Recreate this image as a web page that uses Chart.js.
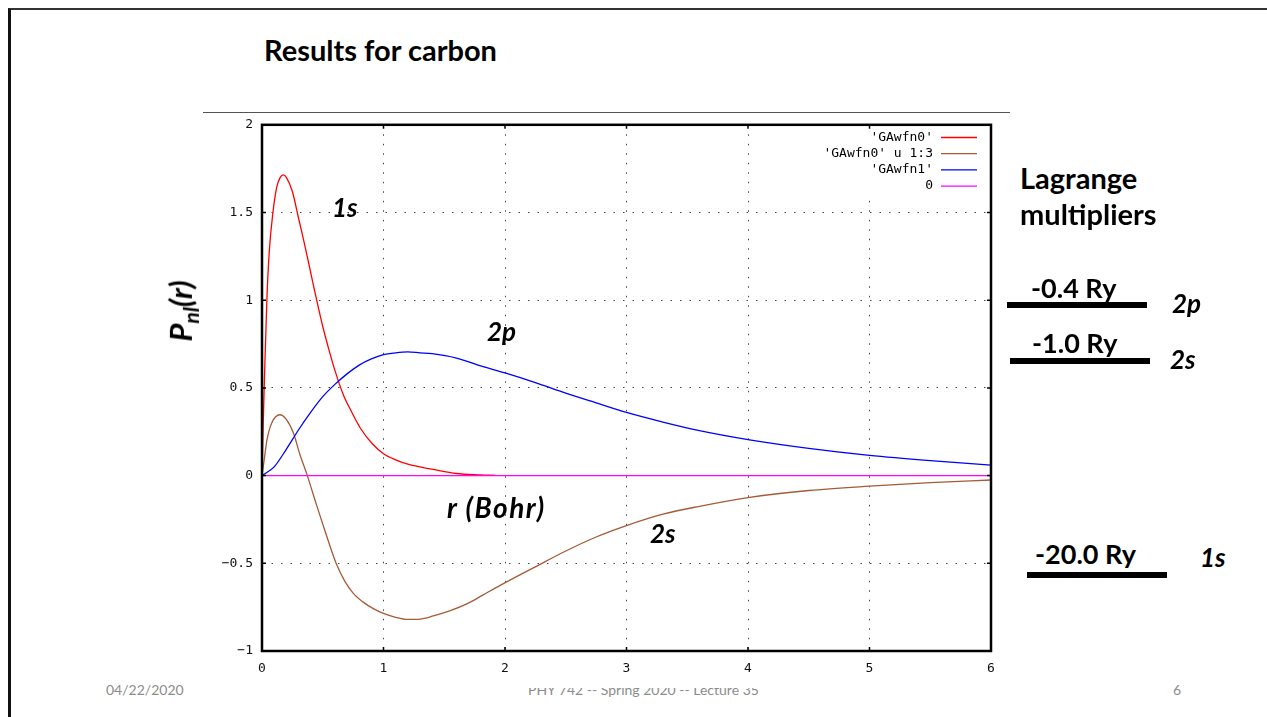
<!DOCTYPE html>
<html>
<head>
<meta charset="utf-8">
<script src="https://cdn.jsdelivr.net/npm/chart.js@4.4.0/dist/chart.umd.min.js"></script>
<style>
  html, body { margin: 0; padding: 0; background: #fff; }
  body { width: 1267px; height: 717px; position: relative; overflow: hidden; font-family: Lato, "Open Sans", sans-serif; }
  .abs { position: absolute; line-height: 1; white-space: nowrap; color: #000; }
  .b { font-weight: 700; }
  .bi { font-weight: 700; font-style: italic; }
  .bar { position: absolute; background: #000; }
  .foot { position: absolute; color: #8c8c8c; font-size: 14px; line-height: 1; }
</style>
</head>
<body>
<!-- slide frame -->
<div style="position:absolute;left:8px;top:8px;width:1300px;height:800px;border-left:3px solid #111;border-top:2px solid #333;"></div>

<!-- footer (partly hidden by the plot image, as in the slide) -->
<div class="foot" style="left:106px;top:683px;">04/22/2020</div>
<div class="foot" style="left:528px;top:683px;">PHY 742 -- Spring 2020 -- Lecture 35</div>
<div class="foot" style="left:1173px;top:683px;">6</div>

<div class="abs b" style="left:264px;top:35px;font-size:29px;">Results for carbon</div>

<!-- plot image -->
<div style="position:absolute;left:200px;top:108px;width:810px;height:580px;background:#fff;">
  <canvas id="plot" width="810" height="580"></canvas>
</div>
<div style="position:absolute;left:203px;top:112px;width:807px;height:1px;background:#555;"></div>

<!-- annotations -->
<div class="abs bi" style="left:183px;top:311px;font-size:31px;transform:translate(-50%,-50%) rotate(-90deg);">P<sub style="font-size:21px;">nl</sub>(r)</div>
<div class="abs bi" style="left:332px;top:194px;font-size:26px;">1s</div>
<div class="abs bi" style="left:487px;top:318px;font-size:26px;">2p</div>
<div class="abs bi" style="left:447px;top:493px;font-size:28px;letter-spacing:1.5px;">r (Bohr)</div>
<div class="abs bi" style="left:650px;top:520px;font-size:26px;">2s</div>

<!-- Lagrange multipliers -->
<div class="abs b" style="left:1020px;top:163px;font-size:29px;">Lagrange</div>
<div class="abs b" style="left:1020px;top:199px;font-size:29px;">multipliers</div>

<div class="abs b" style="left:1031px;top:274px;font-size:27px;">-0.4 Ry</div>
<div class="bar" style="left:1007px;top:302px;width:140px;height:6px;"></div>
<div class="abs bi" style="left:1172px;top:290px;font-size:26px;">2p</div>

<div class="abs b" style="left:1032px;top:329px;font-size:27px;">-1.0 Ry</div>
<div class="bar" style="left:1010px;top:358px;width:140px;height:6px;"></div>
<div class="abs bi" style="left:1170px;top:346px;font-size:26px;">2s</div>

<div class="abs b" style="left:1035px;top:540px;font-size:27px;">-20.0 Ry</div>
<div class="bar" style="left:1027px;top:572px;width:140px;height:6px;"></div>
<div class="abs bi" style="left:1200px;top:544px;font-size:26px;">1s</div>

<script>
// radial functions P_nl(r)
const r1s = [0, 0.01, 0.02, 0.04, 0.06, 0.09, 0.12, 0.15, 0.175, 0.2, 0.25, 0.3, 0.35, 0.4, 0.45, 0.5, 0.55, 0.6, 0.67, 0.74, 0.81, 0.91, 1.0, 1.1, 1.2, 1.3, 1.41, 1.6, 1.8, 1.92];
const p1s = [0, 0.3, 0.55, 1.0, 1.28, 1.5, 1.64, 1.70, 1.715, 1.70, 1.62, 1.47, 1.32, 1.16, 1.0, 0.85, 0.72, 0.6, 0.46, 0.36, 0.27, 0.18, 0.125, 0.09, 0.065, 0.05, 0.035, 0.012, 0.004, 0.001];

const r2s = [0, 0.02, 0.04, 0.08, 0.148, 0.2, 0.26, 0.31, 0.373, 0.45, 0.53, 0.61, 0.68, 0.75, 0.83, 0.92, 1.0, 1.1, 1.2, 1.3, 1.41, 1.55, 1.69, 1.82, 1.96, 2.25, 2.5, 2.75, 3.0, 3.3, 3.6, 4.0, 4.5, 5.0, 5.5, 6.0];
const p2s = [0, 0.1, 0.2, 0.3, 0.347, 0.32, 0.24, 0.125, 0, -0.17, -0.34, -0.5, -0.6, -0.67, -0.72, -0.76, -0.786, -0.808, -0.82, -0.818, -0.8, -0.77, -0.73, -0.68, -0.626, -0.52, -0.43, -0.35, -0.285, -0.22, -0.175, -0.125, -0.085, -0.06, -0.04, -0.025];

const r2p = [0, 0.1, 0.2, 0.3, 0.4, 0.5, 0.6, 0.7, 0.8, 0.9, 1.0, 1.1, 1.2, 1.3, 1.4, 1.6, 1.8, 2.0, 2.25, 2.5, 2.75, 3.0, 3.3, 3.6, 4.0, 4.5, 5.0, 5.5, 6.0];
const p2p = [0, 0.05, 0.15, 0.26, 0.36, 0.45, 0.52, 0.58, 0.63, 0.665, 0.69, 0.70, 0.705, 0.70, 0.695, 0.67, 0.625, 0.585, 0.53, 0.47, 0.415, 0.36, 0.305, 0.256, 0.205, 0.155, 0.115, 0.085, 0.06];

const rZero = [0, 6];
const pZero = [0, 0];

const seriesLabels = ["'GAwfn0'", "'GAwfn0' u 1:3", "'GAwfn1'", "0"];
const seriesColors = ['#ff0000', '#a65a38', '#0000ff', '#ff00ff'];

const xMin = 0, xMax = 6, xStep = 1;
const yMin = -1, yMax = 2, yStep = 0.5;

function pts(xs, ys) {
    return xs.map((x, i) => ({ x: x, y: ys[i] }));
}

const tickFont = { family: '"DejaVu Sans Mono", monospace', size: 13 };

// frame with inward ticks, like gnuplot's border
const framePlugin = {
    id: 'frame',
    afterDatasetsDraw(chart) {
        const { ctx, chartArea: a, scales } = chart;
        ctx.save();
        ctx.strokeStyle = '#000';
        ctx.lineWidth = 1.5;
        ctx.beginPath();
        scales.x.ticks.forEach(t => {
            const px = scales.x.getPixelForValue(t.value);
            ctx.moveTo(px, a.bottom); ctx.lineTo(px, a.bottom - 4);
            ctx.moveTo(px, a.top); ctx.lineTo(px, a.top + 4);
        });
        scales.y.ticks.forEach(t => {
            const py = scales.y.getPixelForValue(t.value);
            ctx.moveTo(a.left, py); ctx.lineTo(a.left + 4, py);
            ctx.moveTo(a.right, py); ctx.lineTo(a.right - 4, py);
        });
        ctx.stroke();
        ctx.lineWidth = 2.5;
        ctx.strokeRect(a.left, a.top, a.right - a.left, a.bottom - a.top);
        ctx.restore();
    }
};

// gnuplot style key: text right aligned, line sample after it
const keyPlugin = {
    id: 'gnukey',
    afterDraw(chart) {
        const { ctx, chartArea: a } = chart;
        const textRight = a.right - 58;
        const lineStart = a.right - 50, lineEnd = a.right - 14;
        const rowH = 16.2;
        ctx.save();
        ctx.font = '13px "DejaVu Sans Mono", monospace';
        ctx.textAlign = 'right';
        ctx.textBaseline = 'middle';
        chart.data.datasets.forEach((ds, i) => {
            const y = a.top + 12.7 + i * rowH;
            ctx.fillStyle = '#000';
            ctx.fillText(ds.label, textRight, y);
            ctx.strokeStyle = ds.borderColor;
            ctx.lineWidth = 1.3;
            ctx.beginPath();
            ctx.moveTo(lineStart, y);
            ctx.lineTo(lineEnd, y);
            ctx.stroke();
        });
        ctx.restore();
    },
    beforeDatasetsDraw(chart) {
        // the key sits on a blank patch, the grid does not run through it
        const { ctx, chartArea: a } = chart;
        ctx.save();
        ctx.fillStyle = '#fff';
        ctx.fillRect(a.right - 175, a.top + 3, 172, 68);
        ctx.restore();
    }
};

function makeChart() {
    const ctx = document.getElementById('plot').getContext('2d');
    const seriesData = [pts(r1s, p1s), pts(r2s, p2s), pts(r2p, p2p), pts(rZero, pZero)];

    new Chart(ctx, {
        type: 'line',
        data: {
            datasets: seriesData.map((d, i) => ({
                label: seriesLabels[i],
                data: d,
                borderColor: seriesColors[i],
                borderWidth: 1.3,
                pointRadius: 0,
                fill: false,
                cubicInterpolationMode: 'monotone',
                order: seriesLabels.length - i
            }))
        },
        options: {
            responsive: false,
            animation: false,
            layout: { padding: { top: 6, right: 19, left: 0, bottom: 0 } },
            plugins: {
                legend: { display: false },
                tooltip: { enabled: false }
            },
            scales: {
                x: {
                    type: 'linear',
                    min: xMin,
                    max: xMax,
                    afterFit(s) { s.height = 37; },
                    ticks: {
                        stepSize: xStep,
                        color: '#111',
                        font: tickFont,
                        padding: 10,
                        maxRotation: 0
                    },
                    grid: { color: '#444', lineWidth: 1, drawTicks: false },
                    border: { display: false, dash: [1.5, 8] }
                },
                y: {
                    type: 'linear',
                    min: yMin,
                    max: yMax,
                    afterFit(s) { s.width = 62; },
                    ticks: {
                        stepSize: yStep,
                        color: '#111',
                        font: tickFont,
                        padding: 9,
                        callback: v => String(v).replace('-', '\u2212')
                    },
                    grid: { color: '#444', lineWidth: 1, drawTicks: false },
                    border: { display: false, dash: [1.5, 8] }
                }
            }
        },
        plugins: [keyPlugin, framePlugin]
    });
}

window.onload = makeChart;
</script>
</body>
</html>
